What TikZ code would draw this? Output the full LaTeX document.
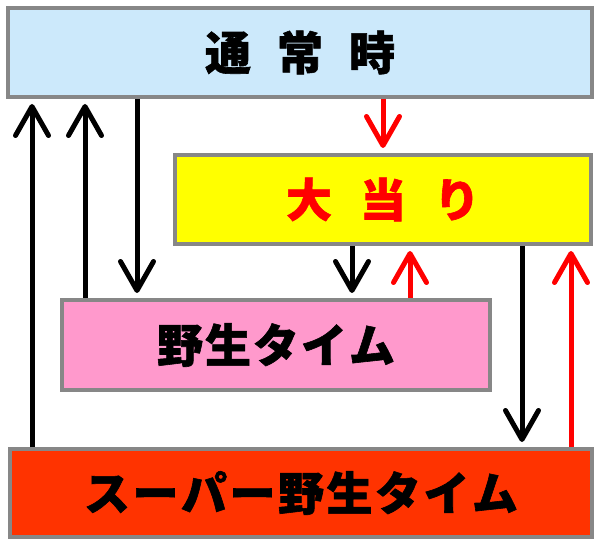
\documentclass[tikz,border=0pt]{standalone}
\usepackage{fontspec}
\newfontfamily\jp{Noto Sans CJK JP}[BoldFeatures={FakeBold=1.3}]
\usetikzlibrary{arrows.meta}
\definecolor{boxgray}{HTML}{878787}
\definecolor{skyfill}{HTML}{CCE9FB}
\definecolor{yelfill}{HTML}{FFFF00}
\definecolor{pinkfill}{HTML}{FF99CC}
\definecolor{redfill}{HTML}{FF3300}
\definecolor{arrred}{HTML}{FF0000}
\newcommand{\gapW}{\hspace{2pt}}
\newcommand{\gapS}{\hspace{2.5pt}}
\tikzset{
  statebox/.style={draw=boxgray, line width=4pt, rectangle, inner sep=0pt,
    font=\jp\bfseries\fontsize{46}{50}\selectfont},
  arr/.style={line width=5pt, -{Straight Barb[length=29pt,width=33pt,round]}, shorten >=5pt},
  blk/.style={arr, draw=black},
  rd/.style={arr, draw=arrred}
}
\begin{document}
\begin{tikzpicture}[x=1pt,y=-1pt]
\useasboundingbox (0,0) rectangle (600,545);
\node[statebox, fill=skyfill, minimum width=584pt, minimum height=89pt] (top) at (300,52.5)
  {\raisebox{-3pt}{通\hspace{26pt}常\hspace{26pt}時}};
\node[statebox, fill=yelfill, text=arrred, minimum width=416pt, minimum height=89pt] (hit) at (383,199.5)
  {大\hspace{28pt}当\hspace{28pt}り};
\node[statebox, fill=pinkfill, minimum width=428pt, minimum height=90pt] (wild) at (276,345)
  {野\gapW 生\gapW タ\gapW イ\gapW ム};
\node[statebox, fill=redfill, minimum width=582pt, minimum height=88pt] (super) at (301,493)
  {\raisebox{-2pt}{ス\gapS ー\gapS パ\gapS ー\gapS 野\gapS 生\gapS タ\gapS イ\gapS ム}\hspace{8pt}};
\coordinate (c1) at (32,0);
\coordinate (c2) at (85,0);
\coordinate (c3) at (137,0);
\coordinate (c4) at (383,0);
\coordinate (c5) at (352,0);
\coordinate (c6) at (410,0);
\coordinate (c7) at (522,0);
\coordinate (c8) at (571,0);
\draw[blk] (super.north -| c1) -- (top.south -| c1);
\draw[blk] (wild.north -| c2) -- (top.south -| c2);
\draw[blk] (top.south -| c3) -- (wild.north -| c3);
\draw[rd] (top.south -| c4) -- (hit.north -| c4);
\draw[blk] (hit.south -| c5) -- (wild.north -| c5);
\draw[rd] (wild.north -| c6) -- (hit.south -| c6);
\draw[blk] (hit.south -| c7) -- (super.north -| c7);
\draw[rd] (super.north -| c8) -- (hit.south -| c8);
\end{tikzpicture}
\end{document}
